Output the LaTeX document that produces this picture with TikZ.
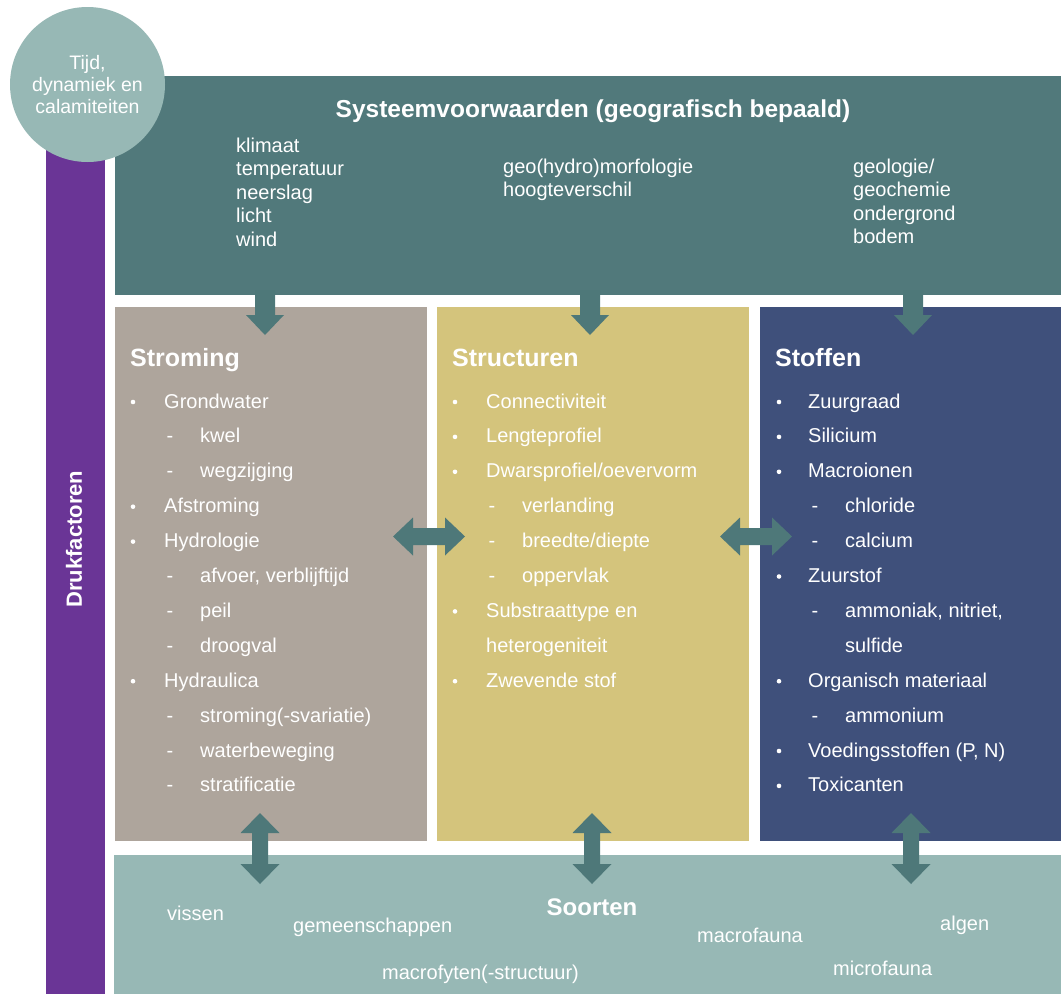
\documentclass[tikz,border=0pt]{standalone}
\usepackage{fontspec}
\setmainfont{Liberation Sans}
\definecolor{topc}{HTML}{51797B}
\definecolor{circc}{HTML}{97B8B5}
\definecolor{purp}{HTML}{6A3596}
\definecolor{stromc}{HTML}{AEA59C}
\definecolor{strucc}{HTML}{D4C47C}
\definecolor{stofc}{HTML}{3F507B}
\definecolor{arrowc}{HTML}{4E7879}
\newcommand\downblock[1]{%
  \fill[blockarrow] ({#1-10},290) -- ({#1+10},290) -- ({#1+10},315) -- ({#1+19},315) -- (#1,335) -- ({#1-19},315) -- ({#1-10},315) -- cycle;}
\newcommand\vdblblock[1]{%
  \fill[blockarrow] (#1,813) -- ({#1+19.5},833) -- ({#1+8},833) -- ({#1+8},864) -- ({#1+19.5},864) -- (#1,884) -- ({#1-19.5},864) -- ({#1-8},864) -- ({#1-8},833) -- ({#1-19.5},833) -- cycle;}
\newcommand\hdblblock[2]{%
  \fill[blockarrow] (#1,536.5) -- ({#1+20},517.5) -- ({#1+20},528) -- ({#2-20},528) -- ({#2-20},517.5) -- (#2,536.5) -- ({#2-20},555.5) -- ({#2-20},545) -- ({#1+20},545) -- ({#1+20},555.5) -- cycle;}
\begin{document}
\begin{tikzpicture}[x=1pt,y=-1pt,
  box/.style={inner sep=0pt,outer sep=0pt,anchor=north west,draw=none},
  item/.style={text=white,font=\fontsize{20}{24}\selectfont,inner sep=0pt,anchor=base west},
  dashmark/.style={text=white,font=\fontsize{20}{24}\selectfont,inner sep=0pt,anchor=base},
  dotmark/.style={circle,fill=white,inner sep=0pt,minimum size=4.6pt},
  heading/.style={text=white,font=\bfseries\fontsize{25}{28}\selectfont,inner sep=0pt,anchor=base west},
  blockarrow/.style={fill=arrowc}]
\useasboundingbox (0,0) rectangle (1061,994);
\fill[white] (0,0) rectangle (1061,994);

% boxes
\node[box,fill=purp,minimum width=59pt,minimum height=850pt] (druk) at (46,144) {};
\node[box,fill=topc,minimum width=946pt,minimum height=219pt] (sys) at (115,76) {};
\node[box,fill=stromc,minimum width=312pt,minimum height=534pt] (strom) at (115,307) {};
\node[box,fill=strucc,minimum width=312pt,minimum height=534pt] (struc) at (437,307) {};
\node[box,fill=stofc,minimum width=301pt,minimum height=534pt] (stof) at (760,307) {};
\node[box,fill=circc,minimum width=947pt,minimum height=139pt] (soort) at (114,855) {};
\node[circle,fill=circc,minimum size=155pt,inner sep=0pt,align=center,text=white,
  font=\fontsize{19.5}{22}\selectfont] (tijd) at (87.5,84.5) {Tijd,\\dynamiek en\\calamiteiten};

\node[rotate=90,text=white,font=\bfseries\fontsize{22}{24}\selectfont,inner sep=0pt] (drukt) at (74,539) {Drukfactoren};

% arrows
\downblock{265}
\downblock{590}
\downblock{913}
\hdblblock{393}{465}
\hdblblock{720}{792}
\vdblblock{260}
\vdblblock{592}
\vdblblock{911}

% top box texts
\node[text=white,font=\bfseries\fontsize{24.5}{28}\selectfont,inner sep=0pt,anchor=base] (systitle) at (593,117) {Systeemvoorwaarden (geografisch bepaald)};
\foreach \k/\t [count=\i] in {0/klimaat,1/temperatuur,2/neerslag,3/licht,4/wind}
  \node[item] (sa\i) at (236,{152+23.6*\k}) {\t};
\foreach \k/\t [count=\i] in {0/geo(hydro)morfologie,1/hoogteverschil}
  \node[item] (sb\i) at (503,{173+23.6*\k}) {\t};
\foreach \k/\t [count=\i] in {0/{geologie/},1/geochemie,2/ondergrond,3/bodem}
  \node[item] (sc\i) at (853,{173+23.6*\k}) {\t};

% Stroming
\node[heading] (stromh) at (130,366) {Stroming};
\foreach \k/\t [count=\i] in {1/Grondwater,4/Afstroming,5/Hydrologie,9/Hydraulica}{
  \node[dotmark] (ab\i) at (133,{408+34.9*(\k-1)-6}) {};
  \node[item] (at\i) at (164,{408+34.9*(\k-1)}) {\t};}
\foreach \k/\t [count=\i] in {2/kwel,3/wegzijging,6/{afvoer, verblijftijd},7/peil,8/droogval,10/stroming(-svariatie),11/waterbeweging,12/stratificatie}{
  \node[dashmark] (ad\i) at (170,{408+34.9*(\k-1)}) {-};
  \node[item] (ae\i) at (200,{408+34.9*(\k-1)}) {\t};}

% Structuren
\node[heading] (struch) at (452,366) {Structuren};
\foreach \k/\t [count=\i] in {1/Connectiviteit,2/Lengteprofiel,3/{Dwarsprofiel/oevervorm},7/Substraattype en,9/Zwevende stof}{
  \node[dotmark] (bb\i) at (455,{408+34.9*(\k-1)-6}) {};
  \node[item] (bt\i) at (486,{408+34.9*(\k-1)}) {\t};}
\node[item] (bc1) at (486,{408+34.9*7}) {heterogeniteit};
\foreach \k/\t [count=\i] in {4/verlanding,5/{breedte/diepte},6/oppervlak}{
  \node[dashmark] (bd\i) at (492,{408+34.9*(\k-1)}) {-};
  \node[item] (be\i) at (522,{408+34.9*(\k-1)}) {\t};}

% Stoffen
\node[heading] (stofh) at (775,366) {Stoffen};
\foreach \k/\t [count=\i] in {1/Zuurgraad,2/Silicium,3/Macroionen,6/Zuurstof,9/Organisch materiaal,11/{Voedingsstoffen (P, N)},12/Toxicanten}{
  \node[dotmark] (cb\i) at (779,{408+34.9*(\k-1)-6}) {};
  \node[item] (ct\i) at (808,{408+34.9*(\k-1)}) {\t};}
\foreach \k/\t [count=\i] in {4/chloride,5/calcium,7/{ammoniak, nitriet,},10/ammonium}{
  \node[dashmark] (cd\i) at (815,{408+34.9*(\k-1)}) {-};
  \node[item] (ce\i) at (845,{408+34.9*(\k-1)}) {\t};}
\node[item] (cc1) at (845,{408+34.9*7}) {sulfide};

% Soorten
\node[text=white,font=\bfseries\fontsize{24}{28}\selectfont,inner sep=0pt,anchor=base] (soorth) at (592,915) {Soorten};
\node[item] (s1) at (167,920) {vissen};
\node[item] (s2) at (293,932) {gemeenschappen};
\node[item] (s3) at (382,979) {macrofyten(-structuur)};
\node[item] (s4) at (697,942) {macrofauna};
\node[item] (s5) at (940,930) {algen};
\node[item] (s6) at (833,975) {microfauna};
\end{tikzpicture}
\end{document}
